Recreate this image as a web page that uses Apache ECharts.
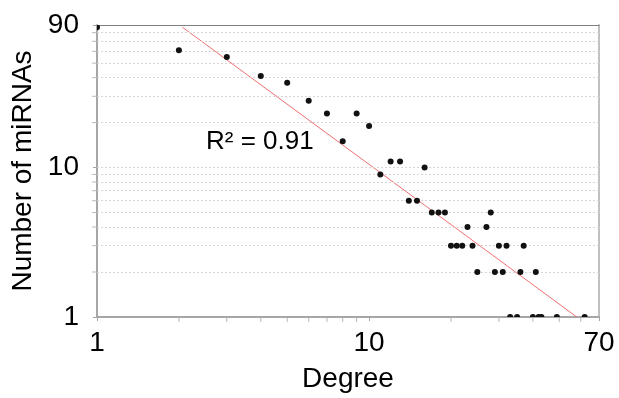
<!DOCTYPE html>
<html>
<head>
<meta charset="utf-8">
<script src="https://cdn.jsdelivr.net/npm/echarts@6/dist/echarts.min.js"></script>
<style>
  html, body { margin: 0; background: #fff; }
  #chart { width: 619px; height: 398px; }
</style>
</head>
<body>
<div id="chart"></div>
<script>
// miRNA degree distribution, log-log
const degree     = [1, 2, 3, 4, 5, 6, 7, 8, 9, 10, 11, 12, 13, 14, 15, 16, 17, 18, 19, 20, 21, 22, 23, 24, 25, 27, 28, 29, 30, 31, 32, 33, 35, 36, 37, 40, 41, 42, 43, 49, 62]
const mirnaCount = [87, 61, 55, 41, 37, 28, 23, 15, 23, 19, 9, 11, 11, 6, 6, 10, 5, 5, 5, 3, 3, 3, 4, 3, 2, 4, 5, 2, 3, 2, 3, 1, 1, 2, 3, 1, 2, 1, 1, 1, 1]

// power-law fit line (end points)
const fitDegree = [2.06, 58]
const fitCount  = [87, 1]
const r2Label = 'R² = 0.91'

// dotted grid rows and small minor ticks
const yGridValues = [2, 3, 4, 5, 6, 7, 8, 9, 10, 20, 30, 40, 50, 60, 70, 80]
const yMinorTicks = [2, 3, 4, 5, 6, 7, 8, 9, 20, 30, 40, 50, 60, 70, 80]
const xMinorTicks = [2, 3, 4, 5, 6, 7, 8, 9, 20, 30, 40, 50, 60]

const font = '"Liberation Sans", Arial, sans-serif'
const axisGrey = '#a6a6a6'

const chart = echarts.init(document.getElementById('chart'))

const option = {
  animation: false,
  textStyle: { fontFamily: font },
  grid: { left: 97, right: 20, top: 25, bottom: 73 },
  xAxis: [
    {
      type: 'log',
      logBase: 10,
      min: 1,
      max: 70,
      name: 'Degree',
      nameLocation: 'middle',
      nameGap: 48,
      nameTextStyle: { fontSize: 28, color: '#000', fontFamily: font },
      axisLine: { show: true, onZero: false, lineStyle: { color: axisGrey, width: 2 } },
      axisTick: { show: true, length: 4, lineStyle: { color: axisGrey } },
      axisLabel: { fontSize: 28, color: '#000', margin: 12, fontFamily: font },
      splitLine: { show: false }
    },
    {
      // top border
      type: 'value',
      position: 'top',
      min: 0,
      max: 1,
      axisLine: { show: true, onZero: false, lineStyle: { color: '#808080', width: 1 } },
      axisTick: { show: false },
      axisLabel: { show: false },
      splitLine: { show: false }
    }
  ],
  yAxis: [
    {
      type: 'log',
      logBase: 10,
      min: 1,
      max: 90,
      name: 'Number of miRNAs',
      nameLocation: 'middle',
      nameGap: 55,
      nameTextStyle: { fontSize: 28, color: '#000', fontFamily: font },
      axisLine: { show: true, onZero: false, lineStyle: { color: axisGrey, width: 2 } },
      axisTick: { show: true, length: 4, lineStyle: { color: axisGrey } },
      axisLabel: { fontSize: 28, color: '#000', margin: 18, fontFamily: font },
      splitLine: { show: false }
    },
    {
      // right border
      type: 'value',
      position: 'right',
      min: 0,
      max: 1,
      axisLine: { show: true, onZero: false, lineStyle: { color: '#c0c0c0', width: 2 } },
      axisTick: { show: false },
      axisLabel: { show: false },
      splitLine: { show: false }
    }
  ],
  graphic: [
    {
      type: 'text',
      left: 206,
      top: 129,
      style: { text: r2Label, fontSize: 26, fontFamily: font, fill: '#000' }
    }
  ],
  series: [
    {
      // fit line + dotted grid rows
      type: 'line',
      data: fitDegree.map((d, i) => [d, fitCount[i]]),
      symbol: 'none',
      silent: true,
      lineStyle: { color: '#f07070', width: 1 },
      z: 3,
      markLine: {
        silent: true,
        symbol: 'none',
        label: { show: false },
        lineStyle: { color: '#ddd2d2', type: [2, 2], width: 1 },
        data: yGridValues.map(v => ({ yAxis: v }))
      }
    },
    {
      // points, clipped at the plot edge
      type: 'custom',
      clip: true,
      z: 5,
      data: degree.map((d, i) => [d, mirnaCount[i]]),
      encode: { x: 0, y: 1 },
      renderItem: (params, api) => {
        const p = api.coord([api.value(0), api.value(1)])
        return {
          type: 'circle',
          shape: { cx: p[0], cy: p[1], r: 3 },
          style: { fill: '#111' }
        }
      }
    },
    {
      // minor ticks below x axis
      type: 'scatter',
      silent: true,
      clip: false,
      symbol: 'rect',
      symbolSize: [1, 4],
      symbolOffset: [0, 3],
      itemStyle: { color: axisGrey },
      data: xMinorTicks.map(v => [v, 1])
    },
    {
      // minor ticks left of y axis
      type: 'scatter',
      silent: true,
      clip: false,
      symbol: 'rect',
      symbolSize: [4, 1],
      symbolOffset: [-3, 0],
      itemStyle: { color: axisGrey },
      data: yMinorTicks.map(v => [1, v])
    }
  ]
}

chart.setOption(option)
</script>
</body>
</html>
